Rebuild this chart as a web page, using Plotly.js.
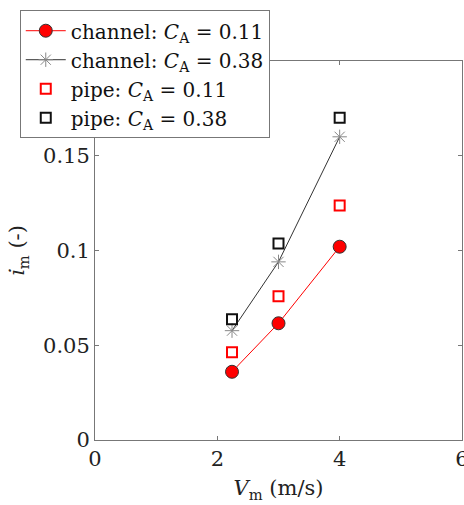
<!DOCTYPE html>
<html>
<head>
<meta charset="utf-8">
<script src="https://cdn.plot.ly/plotly-3.0.1.min.js"></script>
<style>html,body{margin:0;padding:0;background:#fff;}#chart{width:464px;height:505px;}</style>
</head>
<body>
<div id="chart"></div>
<script>
// Data
const velocity = [2.24, 3.0, 4.0];
const channelCA011 = [0.036, 0.0616, 0.102];
const channelCA038 = [0.0577, 0.094, 0.160];
const pipeCA011 = [0.0463, 0.0759, 0.1238];
const pipeCA038 = [0.0637, 0.1037, 0.170];
const seriesNames = [
  'channel: <i>C</i><sub>A</sub> = 0.11',
  'channel: <i>C</i><sub>A</sub> = 0.38',
  'pipe: <i>C</i><sub>A</sub> = 0.11',
  'pipe: <i>C</i><sub>A</sub> = 0.38'
];
const xTicks = [0, 2, 4, 6];
const yTicks = [0, 0.05, 0.1, 0.15, 0.2];

const serif = 'DejaVu Serif, Liberation Serif, serif';

const traces = [
  {x: velocity, y: channelCA011, name: seriesNames[0], legendgroup: 'a', mode: 'lines+markers', type: 'scatter',
   line: {color: '#ff0000', width: 1},
   marker: {symbol: 'circle', size: 13, color: '#ff0000', line: {color: '#333', width: 1}}},
  {x: velocity, y: channelCA038, name: seriesNames[1], legendgroup: 'b', mode: 'lines+markers', type: 'scatter',
   line: {color: '#333333', width: 1},
   marker: {symbol: 'asterisk-open', size: 12, color: '#888888', line: {color: '#888888', width: 1}}},
  {x: velocity, y: pipeCA011, name: seriesNames[2], legendgroup: 'c', mode: 'markers', type: 'scatter',
   marker: {symbol: 'square-open', size: 10, color: '#ff0000', line: {color: '#ff0000', width: 2}}},
  {x: velocity, y: pipeCA038, name: seriesNames[3], legendgroup: 'd', mode: 'markers', type: 'scatter',
   marker: {symbol: 'square-open', size: 10, color: '#111111', line: {color: '#111111', width: 2}}}
];

const axisCommon = {
  showgrid: false, zeroline: false, showline: true, linecolor: '#777', linewidth: 1,
  mirror: 'ticks', ticks: 'inside', ticklen: 4, tickcolor: '#777',
  ticklabeloverflow: 'allow',
  tickfont: {family: serif, size: 21, color: '#222'}
};

const layout = {
  width: 464, height: 505,
  margin: {l: 95, r: 2, t: 61, b: 65},
  paper_bgcolor: '#fff', plot_bgcolor: '#fff',
  showlegend: true,
  xaxis: Object.assign({}, axisCommon, {
    range: [0, 6], tickvals: xTicks, ticktext: xTicks.map(String),
    title: {text: '<i>V</i><sub>m</sub> (m/s)', font: {family: serif, size: 21, color: '#222'}, standoff: 10}
  }),
  yaxis: Object.assign({}, axisCommon, {
    range: [0, 0.2], tickvals: yTicks, ticktext: yTicks.map(String),
    title: {text: '<i>i\u0307</i><sub>m</sub> (-)', font: {family: serif, size: 21, color: '#222'}, standoff: 12}
  }),
  legend: {
    x: -0.205, xanchor: 'left', y: 1.134, yanchor: 'top',
    bgcolor: '#fff', bordercolor: '#777', borderwidth: 1,
    font: {family: serif, size: 20, color: '#111'},
    tracegroupgap: 0, itemwidth: 40
  }
};

Plotly.newPlot('chart', traces, layout, {displayModeBar: false, staticPlot: true});
</script>
</body>
</html>
